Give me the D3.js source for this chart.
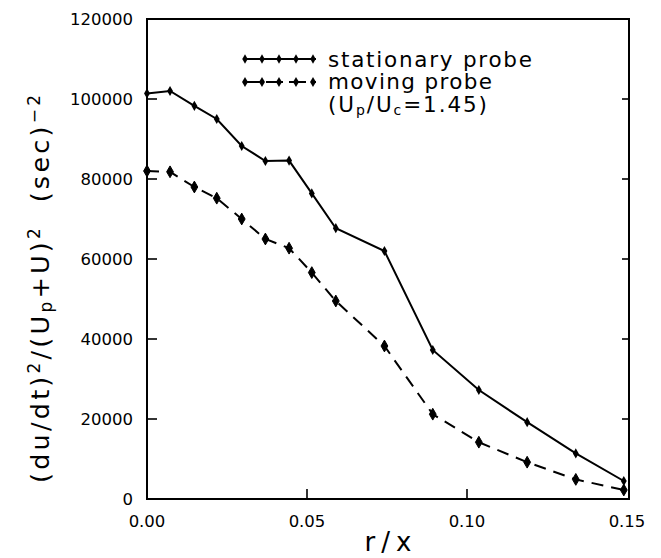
<!DOCTYPE html>
<html><head><meta charset="utf-8">
<script src="https://cdn.jsdelivr.net/npm/d3@7"></script>
<style>body{margin:0;background:#fff}svg{display:block}text{font-family:"DejaVu Sans",sans-serif;fill:#000}</style>
</head><body>
<script>
const rxValues = [0, 0.0072, 0.0148, 0.0218, 0.0296, 0.037, 0.0444, 0.0515, 0.059, 0.0742, 0.0893, 0.1037, 0.1188, 0.134, 0.149];
const stationary = [101400, 102000, 98300, 95000, 88250, 84500, 84600, 76400, 67700, 62000, 37250, 27250, 19200, 11400, 4500];
const moving = [82000, 81800, 78000, 75200, 70000, 65000, 62700, 56600, 49500, 38250, 21200, 14200, 9200, 4900, 2250];
const xTicks = [0, 0.05, 0.10, 0.15];
const yTicks = [0, 20000, 40000, 60000, 80000, 100000, 120000];

const W = 661, H = 558;
const svg = d3.select("body").append("svg").attr("width", W).attr("height", H);
const x = d3.scaleLinear().domain([0, 0.15]).range([147, 627]);
const y = d3.scaleLinear().domain([0, 120000]).range([499, 19]);

// frame
svg.append("rect").attr("x", 147).attr("y", 19).attr("width", 482).attr("height", 480)
  .attr("fill", "none").attr("stroke", "#000").attr("stroke-width", 2);

// ticks
const g = svg.append("g").attr("stroke", "#000").attr("stroke-width", 1.6);
yTicks.slice(1, -1).forEach(v => {
  g.append("line").attr("x1", 147).attr("x2", 157).attr("y1", y(v)).attr("y2", y(v));
  g.append("line").attr("x1", 629).attr("x2", 622).attr("y1", y(v)).attr("y2", y(v));
});
xTicks.slice(1, -1).forEach(v => {
  g.append("line").attr("x1", x(v)).attr("x2", x(v)).attr("y1", 499).attr("y2", 489);
});

// tick labels
svg.selectAll(".yl").data(yTicks).enter().append("text")
  .attr("x", 133).attr("y", d => y(d)).attr("dy", "0.36em").attr("text-anchor", "end")
  .attr("font-size", 16.5).text(d => d3.format("d")(d));
svg.selectAll(".xl").data(xTicks).enter().append("text")
  .attr("x", d => x(d)).attr("y", 527).attr("text-anchor", "middle")
  .attr("font-size", 16.5).text(d => d3.format(".2f")(d));

// axis titles
svg.append("text").attr("x", 388).attr("y", 551).attr("text-anchor", "middle")
  .attr("font-size", 26).attr("textLength", 47).attr("lengthAdjust", "spacing").text("r/x");

const yl = svg.append("text").attr("transform", "translate(49,289) rotate(-90)")
  .attr("text-anchor", "middle").attr("font-size", 25.5);
const parts = [["(du/dt)",0],["2",1],["/(U",0],["p",-1],["+U)",0],["2",1],["  (sec)",0],["−2",1]];
parts.forEach(([t, s]) => {
  const ts = yl.append("tspan").text(t).attr("xml:space", "preserve");
  if (s === 1) ts.attr("baseline-shift", "55%").attr("font-size", 17);
  if (s === -1) ts.attr("baseline-shift", "-20%").attr("font-size", 17);
});
yl.style("white-space", "pre").attr("textLength", 388).attr("lengthAdjust", "spacing");

// lines
const line = d3.line().x(d => x(d[0])).y(d => y(d[1]));
const sData = rxValues.map((r, i) => [r, stationary[i]]);
const mData = rxValues.map((r, i) => [r, moving[i]]);
svg.append("path").datum(sData).attr("d", line).attr("fill", "none").attr("stroke", "#000").attr("stroke-width", 2);
svg.append("path").datum(mData).attr("d", line).attr("fill", "none").attr("stroke", "#000").attr("stroke-width", 2)
  .attr("stroke-dasharray", "12,8");

const sym = d3.symbol().type(d3.symbolDiamond);
svg.selectAll(".sm").data(sData).enter().append("path")
  .attr("d", sym.size(30)()).attr("transform", d => `translate(${x(d[0])},${y(d[1])})`).attr("fill", "#000");
svg.selectAll(".mm").data(mData).enter().append("path")
  .attr("d", sym.size(40)()).attr("transform", d => `translate(${x(d[0])},${y(d[1])})`)
  .attr("fill", "#000").attr("stroke", "#000").attr("stroke-width", 1);

// legend
const legS = [245, 262, 279, 296, 313];
svg.append("line").attr("x1", 243).attr("x2", 316).attr("y1", 59).attr("y2", 59).attr("stroke", "#000").attr("stroke-width", 2);
legS.forEach(px => svg.append("path").attr("d", sym.size(26)()).attr("transform", `translate(${px},59)`));
svg.append("line").attr("x1", 243).attr("x2", 316).attr("y1", 82).attr("y2", 82).attr("stroke", "#000").attr("stroke-width", 2)
  .attr("stroke-dasharray", "17,6");
legS.forEach(px => svg.append("path").attr("d", sym.size(30)()).attr("transform", `translate(${px},82)`));

svg.append("text").attr("x", 328).attr("y", 67).attr("font-size", 21.5).attr("textLength", 204).attr("lengthAdjust", "spacing").text("stationary probe");
svg.append("text").attr("x", 328).attr("y", 89).attr("font-size", 21.5).attr("textLength", 164).attr("lengthAdjust", "spacing").text("moving probe");
const l3 = svg.append("text").attr("x", 328).attr("y", 112).attr("font-size", 21.5);
[["(U",0],["p",-1],["/U",0],["c",-1],["=1.45)",0]].forEach(([t, s]) => {
  const ts = l3.append("tspan").text(t);
  if (s === -1) ts.attr("baseline-shift", "-20%").attr("font-size", 14);
});
l3.attr("textLength", 159).attr("lengthAdjust", "spacing");
</script>
</body></html>
